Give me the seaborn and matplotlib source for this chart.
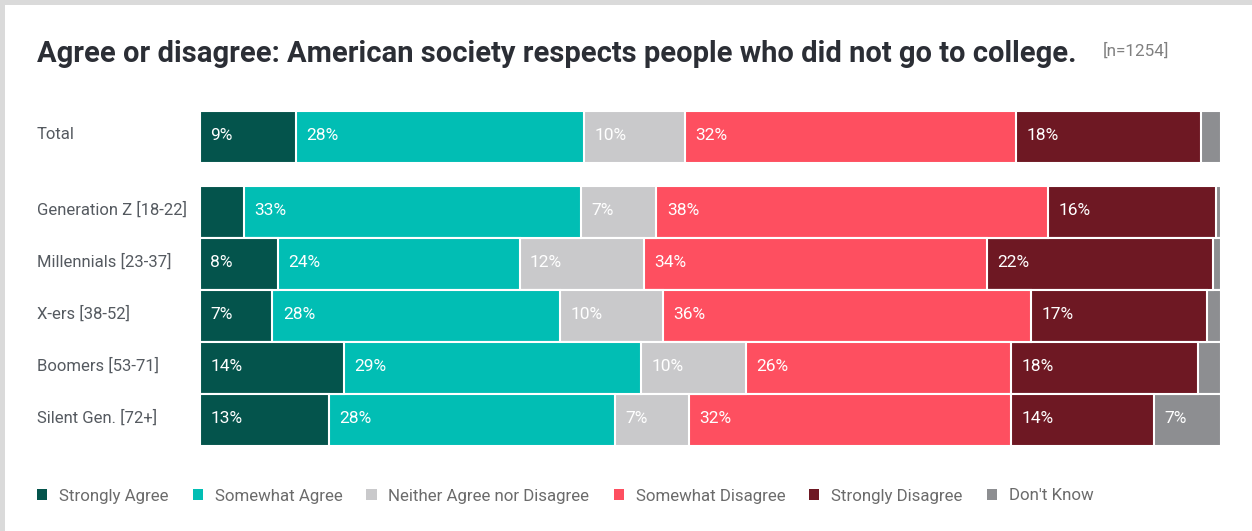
import matplotlib
matplotlib.use("Agg")
import matplotlib.pyplot as plt
import seaborn as sns
import pandas as pd
from matplotlib.patches import Patch, Rectangle

# ---------------- data ----------------
groups = ["Total", "Generation Z [18-22]", "Millennials [23-37]", "X-ers [38-52]",
          "Boomers [53-71]", "Silent Gen. [72+]"]
categories = ["Strongly Agree", "Somewhat Agree", "Neither Agree nor Disagree",
              "Somewhat Disagree", "Strongly Disagree", "Don't Know"]
strongly_agree    = [9.4, 4.3, 7.6, 7.1, 14.1, 12.6]
somewhat_agree    = [28.2, 33.0, 23.7, 28.2, 29.1, 28.0]
neither           = [9.9, 7.4, 12.2, 10.0, 10.3, 7.3]
somewhat_disagree = [32.4, 38.4, 33.6, 36.1, 25.9, 31.5]
strongly_disagree = [18.1, 16.4, 22.1, 17.2, 18.3, 14.0]
dont_know         = [2.0, 0.5, 0.8, 1.4, 2.3, 6.6]
title = "Agree or disagree: American society respects people who did not go to college."
n_note = "[n=1254]"

colors = ["#04544c", "#01beb4", "#c9c9cb", "#fe4f60", "#6e1823", "#8d8e91"]
series = [strongly_agree, somewhat_agree, neither, somewhat_disagree,
          strongly_disagree, dont_know]

# ---------------- layout ----------------
W, H = 1252, 531
sns.set_theme(style="white")
plt.rcParams["font.family"] = ["Roboto", "DejaVu Sans"]

fig = plt.figure(figsize=(W / 100, H / 100), dpi=100, facecolor="#dadada")
fig.patches.append(Rectangle((5 / W, 0), 1, 1 - 5 / H, transform=fig.transFigure,
                             facecolor="white", edgecolor="none", zorder=-10))

ax = fig.add_axes([200 / W, 1 - 446 / H, (1221 - 200) / W, (446 - 111) / H])
ax.set_facecolor("none")

gap = 0.44
positions = [0.0] + [1.0 + gap + i for i in range(len(groups) - 1)]

rows = []
for gi, g in enumerate(groups):
    cum = 0.0
    for ci, c in enumerate(categories):
        cum += series[ci][gi]
        rows.append({"group": g, "pos": positions[gi], "category": c,
                     "value": series[ci][gi], "cum": cum, "left": cum - series[ci][gi]})
df = pd.DataFrame(rows)

# stacked bars: draw cumulative totals from the last category back to the first
for ci in reversed(range(len(categories))):
    sub = df[df["category"] == categories[ci]]
    sns.barplot(data=sub, x="cum", y="pos", orient="h", native_scale=True,
                color=colors[ci], saturation=1, width=1.0, errorbar=None,
                edgecolor="white", linewidth=1.5, ax=ax)

# value labels
for _, r in df.iterrows():
    v = int(round(r["value"]))
    if v >= 5:
        ax.annotate(f"{v}%", xy=(r["left"], r["pos"]), xytext=(7.5, 1.0),
                    textcoords="offset points", ha="left", va="center",
                    color="white", fontsize=12.5)

ax.set_xlim(0, 100)
ax.set_ylim(positions[-1] + 0.5, -0.5)
ax.set_xticks([])
ax.set_yticks([])
ax.set_xlabel("")
ax.set_ylabel("")
for s in ax.spines.values():
    s.set_visible(False)

# row labels
for g, p in zip(groups, positions):
    ax.annotate(g, xy=(37 / W, p), xycoords=(fig.transFigure, ax.transData),
                xytext=(0, 1.5), textcoords="offset points", ha="left", va="center",
                color="#555a60", fontsize=12)

# title and note
fig.text(37 / W, 1 - 62 / H, title, fontsize=21, fontweight="bold",
         color="#2b2e35", va="baseline", ha="left")
fig.text(1103 / W, 1 - 56 / H, n_note, fontsize=12.3,
         color="#808080", va="baseline", ha="left")

# legend
handles = [Patch(facecolor=c, edgecolor="none") for c in colors]
leg = fig.legend(handles, categories, loc="center left",
                 bbox_to_anchor=(37 / W, 1 - 496 / H), ncol=6, frameon=False,
                 handlelength=0.6, handleheight=0.6, handletextpad=0.7,
                 columnspacing=1.42, fontsize=12.2, borderaxespad=0, borderpad=0,
                 labelcolor="#6b6b6b")

fig.savefig("out.png", dpi=100, facecolor=fig.get_facecolor())
